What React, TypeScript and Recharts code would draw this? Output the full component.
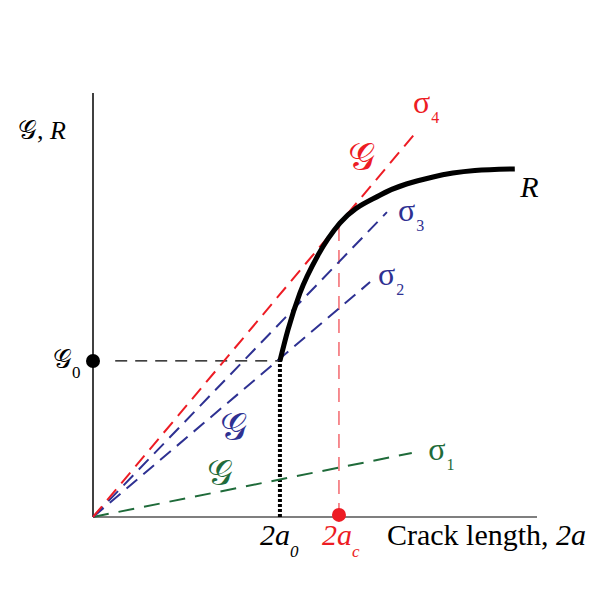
import React from 'react'
import { LineChart, Line, XAxis, YAxis, ReferenceLine, ReferenceDot } from 'recharts'

// crack length (x) vs energy release rate / resistance (y), arbitrary units
const a0 = 4.21
const ac = 5.54
const G0 = 3.68
const rAtAc = 6.91

const rCurve = [
  { x: 4.21, y: 3.68 },
  { x: 4.39, y: 4.41 },
  { x: 4.66, y: 5.28 },
  { x: 5.07, y: 6.18 },
  { x: 5.56, y: 6.93 },
  { x: 6.46, y: 7.59 },
  { x: 7.66, y: 8.02 },
  { x: 8.6, y: 8.17 },
  { x: 9.5, y: 8.21 },
]

const sigma1 = [{ x: 0, y: 0 }, { x: 7.18, y: 1.51 }]
const sigma2 = [{ x: 0, y: 0 }, { x: 6.24, y: 5.54 }]
const sigma3 = [{ x: 0, y: 0 }, { x: 6.62, y: 7.19 }]
const sigma4 = [{ x: 0, y: 0 }, { x: 7.32, y: 9.13 }]

const RED = '#ED1C24'
const BLUE = '#2E3192'
const GREEN = '#1F6B3A'
const SERIF = '"Liberation Serif", "Times New Roman", serif'
const SCRIPT_G = '𝒢'

function Tag({ x, y, children }: { x: number; y: number; children: React.ReactNode }) {
  return (
    <ReferenceDot
      x={x}
      y={y}
      r={0}
      ifOverflow="visible"
      shape={(p: any) => (
        <text x={p.cx} y={p.cy} fontFamily={SERIF}>
          {children}
        </text>
      )}
    />
  )
}

function Sigma({ n, color }: { n: string; color: string }) {
  return (
    <>
      <tspan fill={color} fontSize={32}>σ</tspan>
      <tspan fill={color} fontSize={16} dx={1} dy={10}>{n}</tspan>
    </>
  )
}

export default function App() {
  return (
    <div style={{ position: 'absolute', left: 0, top: 0, width: 606, height: 595, background: '#fff' }}>
      <LineChart width={606} height={595} margin={{ top: 93, right: 69, bottom: 78, left: 93 }}>
        <XAxis type="number" dataKey="x" domain={[0, 10]} hide />
        <YAxis type="number" dataKey="y" domain={[0, 10]} hide />

        <ReferenceLine x={0} stroke="#000" strokeWidth={1.5} />
        <ReferenceLine y={0} stroke="#555" strokeWidth={1.5} />

        <ReferenceLine
          segment={[{ x: 0.5, y: G0 }, { x: a0, y: G0 }]}
          stroke="#000"
          strokeWidth={1.2}
          strokeDasharray="12 8"
        />
        <ReferenceLine
          segment={[{ x: a0, y: 0 }, { x: a0, y: G0 }]}
          stroke="#000"
          strokeWidth={4}
          strokeDasharray="3 2"
        />
        <ReferenceLine
          segment={[{ x: ac, y: 0 }, { x: ac, y: rAtAc }]}
          stroke={RED}
          strokeWidth={1}
          strokeDasharray="14 9"
        />

        <Line data={sigma1} dataKey="y" type="linear" stroke={GREEN} strokeWidth={2} strokeDasharray="16 10" dot={false} isAnimationActive={false} />
        <Line data={sigma2} dataKey="y" type="linear" stroke={BLUE} strokeWidth={2} strokeDasharray="14 8" dot={false} isAnimationActive={false} />
        <Line data={sigma3} dataKey="y" type="linear" stroke={BLUE} strokeWidth={2} strokeDasharray="14 8" dot={false} isAnimationActive={false} />
        <Line data={sigma4} dataKey="y" type="linear" stroke={RED} strokeWidth={2} strokeDasharray="14 8" dot={false} isAnimationActive={false} />
        <Line data={rCurve} dataKey="y" type="monotone" stroke="#000" strokeWidth={5} dot={false} isAnimationActive={false} />

        <ReferenceDot x={0} y={G0} r={7} fill="#000" stroke="none" ifOverflow="visible" />
        <ReferenceDot x={ac} y={0.05} r={7} fill={RED} stroke="none" ifOverflow="visible" />

        <Tag x={-1.69} y={8.92}>
          <tspan fontSize={26}>{SCRIPT_G}, </tspan>
          <tspan fontSize={26} fontStyle="italic">R</tspan>
        </Tag>
        <Tag x={-0.9} y={3.51}>
          <tspan fontSize={26}>{SCRIPT_G}</tspan>
          <tspan fontSize={17} dy={10}>0</tspan>
        </Tag>
        <Tag x={7.21} y={9.53}><Sigma n="4" color={RED} /></Tag>
        <Tag x={6.87} y={6.98}><Sigma n="3" color={BLUE} /></Tag>
        <Tag x={6.42} y={5.47}><Sigma n="2" color={BLUE} /></Tag>
        <Tag x={7.55} y={1.34}><Sigma n="1" color={GREEN} /></Tag>
        <Tag x={9.62} y={7.55}>
          <tspan fontSize={30} fontStyle="italic">R</tspan>
        </Tag>
        <Tag x={5.74} y={8.18}>
          <tspan fontSize={38} fill={RED}>{SCRIPT_G}</tspan>
        </Tag>
        <Tag x={2.86} y={1.82}>
          <tspan fontSize={38} fill={BLUE}>{SCRIPT_G}</tspan>
        </Tag>
        <Tag x={2.57} y={0.75}>
          <tspan fontSize={36} fill={GREEN}>{SCRIPT_G}</tspan>
        </Tag>
        <Tag x={3.76} y={-0.66}>
          <tspan fontSize={30} fontStyle="italic">2a</tspan>
          <tspan fontSize={17} fontStyle="italic" dy={12}>0</tspan>
        </Tag>
        <Tag x={5.16} y={-0.66}>
          <tspan fontSize={30} fontStyle="italic" fill={RED}>2a</tspan>
          <tspan fontSize={17} fontStyle="italic" fill={RED} dy={12}>c</tspan>
        </Tag>
        <Tag x={6.62} y={-0.66}>
          <tspan fontSize={30}>Crack length, </tspan>
          <tspan fontSize={30} fontStyle="italic">2a</tspan>
        </Tag>
      </LineChart>
    </div>
  )
}
